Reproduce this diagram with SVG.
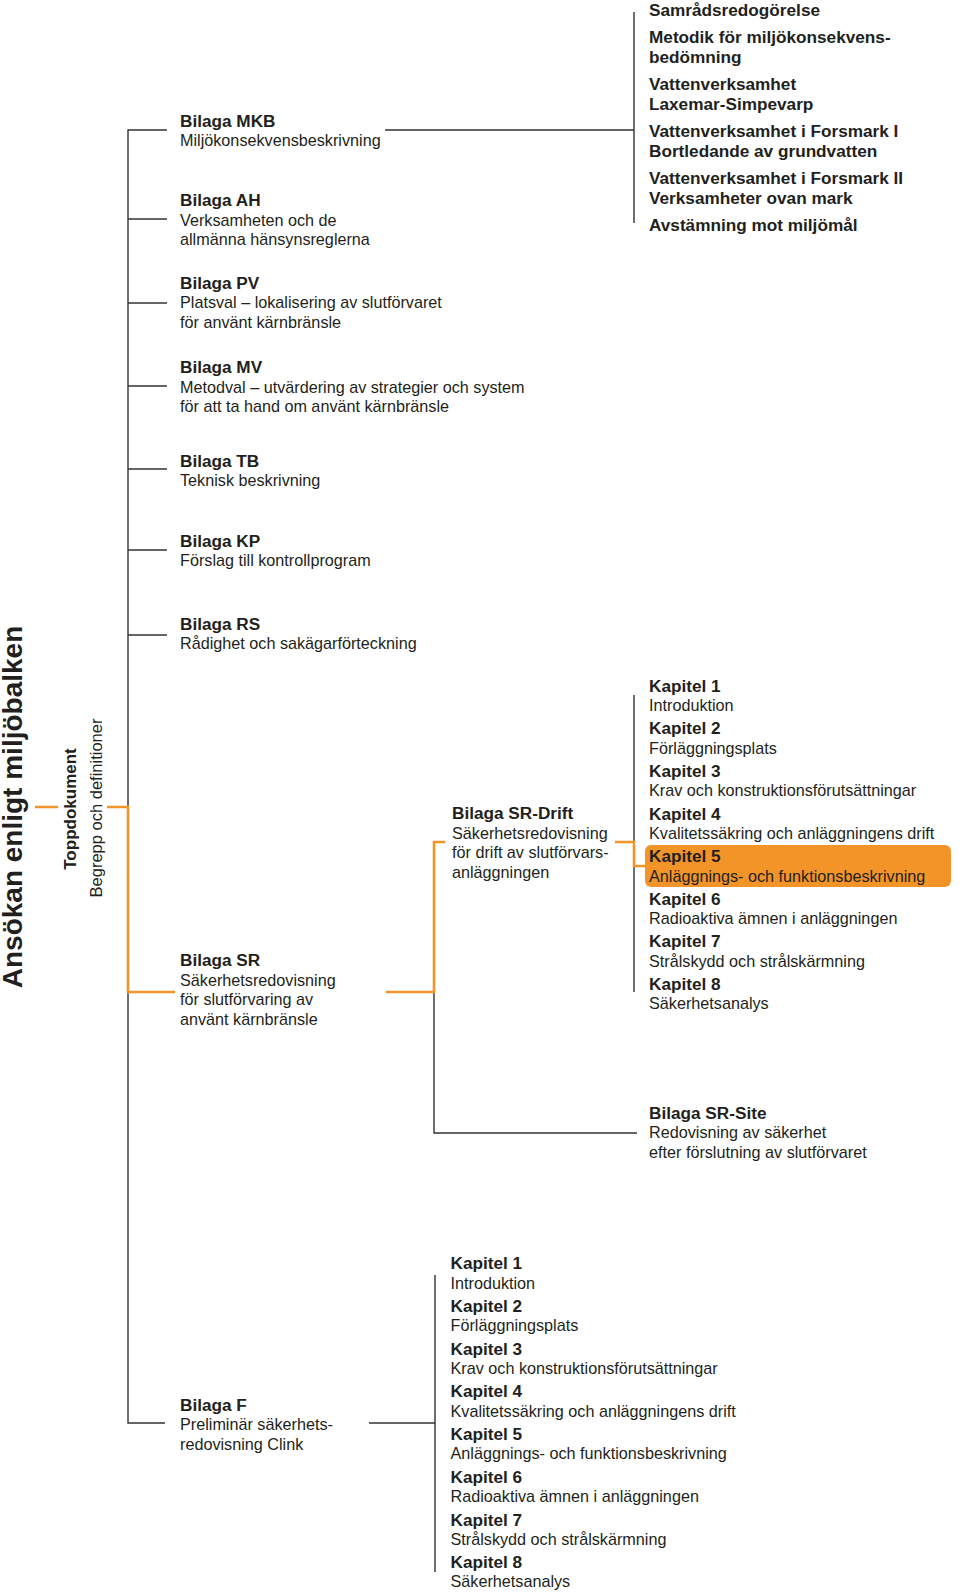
<svg xmlns="http://www.w3.org/2000/svg" width="960" height="1594" viewBox="0 0 960 1594">
<style>
text{font-family:"Liberation Sans",Arial,sans-serif;fill:#231f20}
.b{font-weight:bold;font-size:17.2px}
.r{font-size:16.2px}
.ln{stroke:#333;stroke-width:1.4;fill:none}
.or{stroke:#f39428;stroke-width:2.6;fill:none}
</style>
<rect width="960" height="1594" fill="#fff"/>
<g id="connectors">
  <path class="ln" d="M167,130H128V1423H165"/>
  <path class="ln" d="M128,219H167M128,303H167M128,386H167M128,469H167M128,550H167M128,635H167"/>
  <path class="ln" d="M385,130H634M634,12V223"/>
  <path class="ln" d="M434,842V1133H637"/>
  <path class="ln" d="M634,695V992"/>
  <path class="ln" d="M369,1423H435M435,1275V1572"/>
  <path class="or" d="M35,807H58M107,807H128V992H175"/>
  <path class="or" d="M386,992H434V842H445"/>
  <path class="or" d="M615,842H634V866H646"/>
</g>
<g id="title">
  <text transform="translate(22,807) rotate(-90)" text-anchor="middle" style="font-weight:bold;font-size:28px">Ansökan enligt miljöbalken</text>
</g>
<g id="toppdokument">
  <text transform="translate(76,809) rotate(-90)" text-anchor="middle" class="b" style="font-size:17px">Toppdokument</text>
  <text transform="translate(102,808) rotate(-90)" text-anchor="middle" style="font-size:16.5px">Begrepp och definitioner</text>
</g>
<g id="mkb-list">
  <text class="b" x="649" y="16">Samrådsredogörelse</text>
  <text class="b" x="649" y="43">Metodik för miljökonsekvens-</text>
  <text class="b" x="649" y="62.5">bedömning</text>
  <text class="b" x="649" y="90">Vattenverksamhet</text>
  <text class="b" x="649" y="109.5">Laxemar-Simpevarp</text>
  <text class="b" x="649" y="137">Vattenverksamhet i Forsmark I</text>
  <text class="b" x="649" y="156.5">Bortledande av grundvatten</text>
  <text class="b" x="649" y="184">Vattenverksamhet i Forsmark II</text>
  <text class="b" x="649" y="203.5">Verksamheter ovan mark</text>
  <text class="b" x="649" y="230.5">Avstämning mot miljömål</text>
</g>
<g id="bilaga-mkb">
  <text class="b" x="180" y="126.5">Bilaga MKB</text>
  <text class="r" x="180" y="146">Miljökonsekvensbeskrivning</text>
</g>
<g id="bilaga-ah">
  <text class="b" x="180" y="206">Bilaga AH</text>
  <text class="r" x="180" y="225.5">Verksamheten och de</text>
  <text class="r" x="180" y="245">allmänna hänsynsreglerna</text>
</g>
<g id="bilaga-pv">
  <text class="b" x="180" y="288.5">Bilaga PV</text>
  <text class="r" x="180" y="308">Platsval – lokalisering av slutförvaret</text>
  <text class="r" x="180" y="327.5">för använt kärnbränsle</text>
</g>
<g id="bilaga-mv">
  <text class="b" x="180" y="373">Bilaga MV</text>
  <text class="r" x="180" y="392.5">Metodval – utvärdering av strategier och system</text>
  <text class="r" x="180" y="411.5">för att ta hand om använt kärnbränsle</text>
</g>
<g id="bilaga-tb">
  <text class="b" x="180" y="466.5">Bilaga TB</text>
  <text class="r" x="180" y="486">Teknisk beskrivning</text>
</g>
<g id="bilaga-kp">
  <text class="b" x="180" y="546.5">Bilaga KP</text>
  <text class="r" x="180" y="566">Förslag till kontrollprogram</text>
</g>
<g id="bilaga-rs">
  <text class="b" x="180" y="630">Bilaga RS</text>
  <text class="r" x="180" y="649">Rådighet och sakägarförteckning</text>
</g>
<g id="bilaga-sr">
  <text class="b" x="180" y="966">Bilaga SR</text>
  <text class="r" x="180" y="985.5">Säkerhetsredovisning</text>
  <text class="r" x="180" y="1005">för slutförvaring av</text>
  <text class="r" x="180" y="1024.5">använt kärnbränsle</text>
</g>
<g id="bilaga-f">
  <text class="b" x="180" y="1410.5">Bilaga F</text>
  <text class="r" x="180" y="1430">Preliminär säkerhets-</text>
  <text class="r" x="180" y="1449.5">redovisning Clink</text>
</g>
<g id="bilaga-sr-drift">
  <text class="b" x="452" y="819">Bilaga SR-Drift</text>
  <text class="r" x="452" y="838.5">Säkerhetsredovisning</text>
  <text class="r" x="452" y="858">för drift av slutförvars-</text>
  <text class="r" x="452" y="877.5">anläggningen</text>
</g>
<g id="bilaga-sr-site">
  <text class="b" x="649" y="1118.5">Bilaga SR-Site</text>
  <text class="r" x="649" y="1138">Redovisning av säkerhet</text>
  <text class="r" x="649" y="1157.5">efter förslutning av slutförvaret</text>
</g>
<g id="sr-drift-kapitel">
  <rect x="645" y="845" width="306" height="42" rx="6" fill="#f39428"/>
  <text class="b" x="649" y="691.7">Kapitel 1</text>
  <text class="r" x="649" y="711.1">Introduktion</text>
  <text class="b" x="649" y="734.3">Kapitel 2</text>
  <text class="r" x="649" y="753.7">Förläggningsplats</text>
  <text class="b" x="649" y="776.9">Kapitel 3</text>
  <text class="r" x="649" y="796.3">Krav och konstruktionsförutsättningar</text>
  <text class="b" x="649" y="819.6">Kapitel 4</text>
  <text class="r" x="649" y="839">Kvalitetssäkring och anläggningens drift</text>
  <text class="b" x="649" y="862.2">Kapitel 5</text>
  <text class="r" x="649" y="881.6">Anläggnings- och funktionsbeskrivning</text>
  <text class="b" x="649" y="904.8">Kapitel 6</text>
  <text class="r" x="649" y="924.2">Radioaktiva ämnen i anläggningen</text>
  <text class="b" x="649" y="947.4">Kapitel 7</text>
  <text class="r" x="649" y="966.8">Strålskydd och strålskärmning</text>
  <text class="b" x="649" y="990">Kapitel 8</text>
  <text class="r" x="649" y="1009.4">Säkerhetsanalys</text>
</g>
<g id="f-kapitel">
  <text class="b" x="450.5" y="1269.3">Kapitel 1</text>
  <text class="r" x="450.5" y="1288.5">Introduktion</text>
  <text class="b" x="450.5" y="1312">Kapitel 2</text>
  <text class="r" x="450.5" y="1331.2">Förläggningsplats</text>
  <text class="b" x="450.5" y="1354.7">Kapitel 3</text>
  <text class="r" x="450.5" y="1373.9">Krav och konstruktionsförutsättningar</text>
  <text class="b" x="450.5" y="1397.4">Kapitel 4</text>
  <text class="r" x="450.5" y="1416.6">Kvalitetssäkring och anläggningens drift</text>
  <text class="b" x="450.5" y="1440.1">Kapitel 5</text>
  <text class="r" x="450.5" y="1459.3">Anläggnings- och funktionsbeskrivning</text>
  <text class="b" x="450.5" y="1482.8">Kapitel 6</text>
  <text class="r" x="450.5" y="1502">Radioaktiva ämnen i anläggningen</text>
  <text class="b" x="450.5" y="1525.5">Kapitel 7</text>
  <text class="r" x="450.5" y="1544.7">Strålskydd och strålskärmning</text>
  <text class="b" x="450.5" y="1568.3">Kapitel 8</text>
  <text class="r" x="450.5" y="1587.3">Säkerhetsanalys</text>
</g>
</svg>
